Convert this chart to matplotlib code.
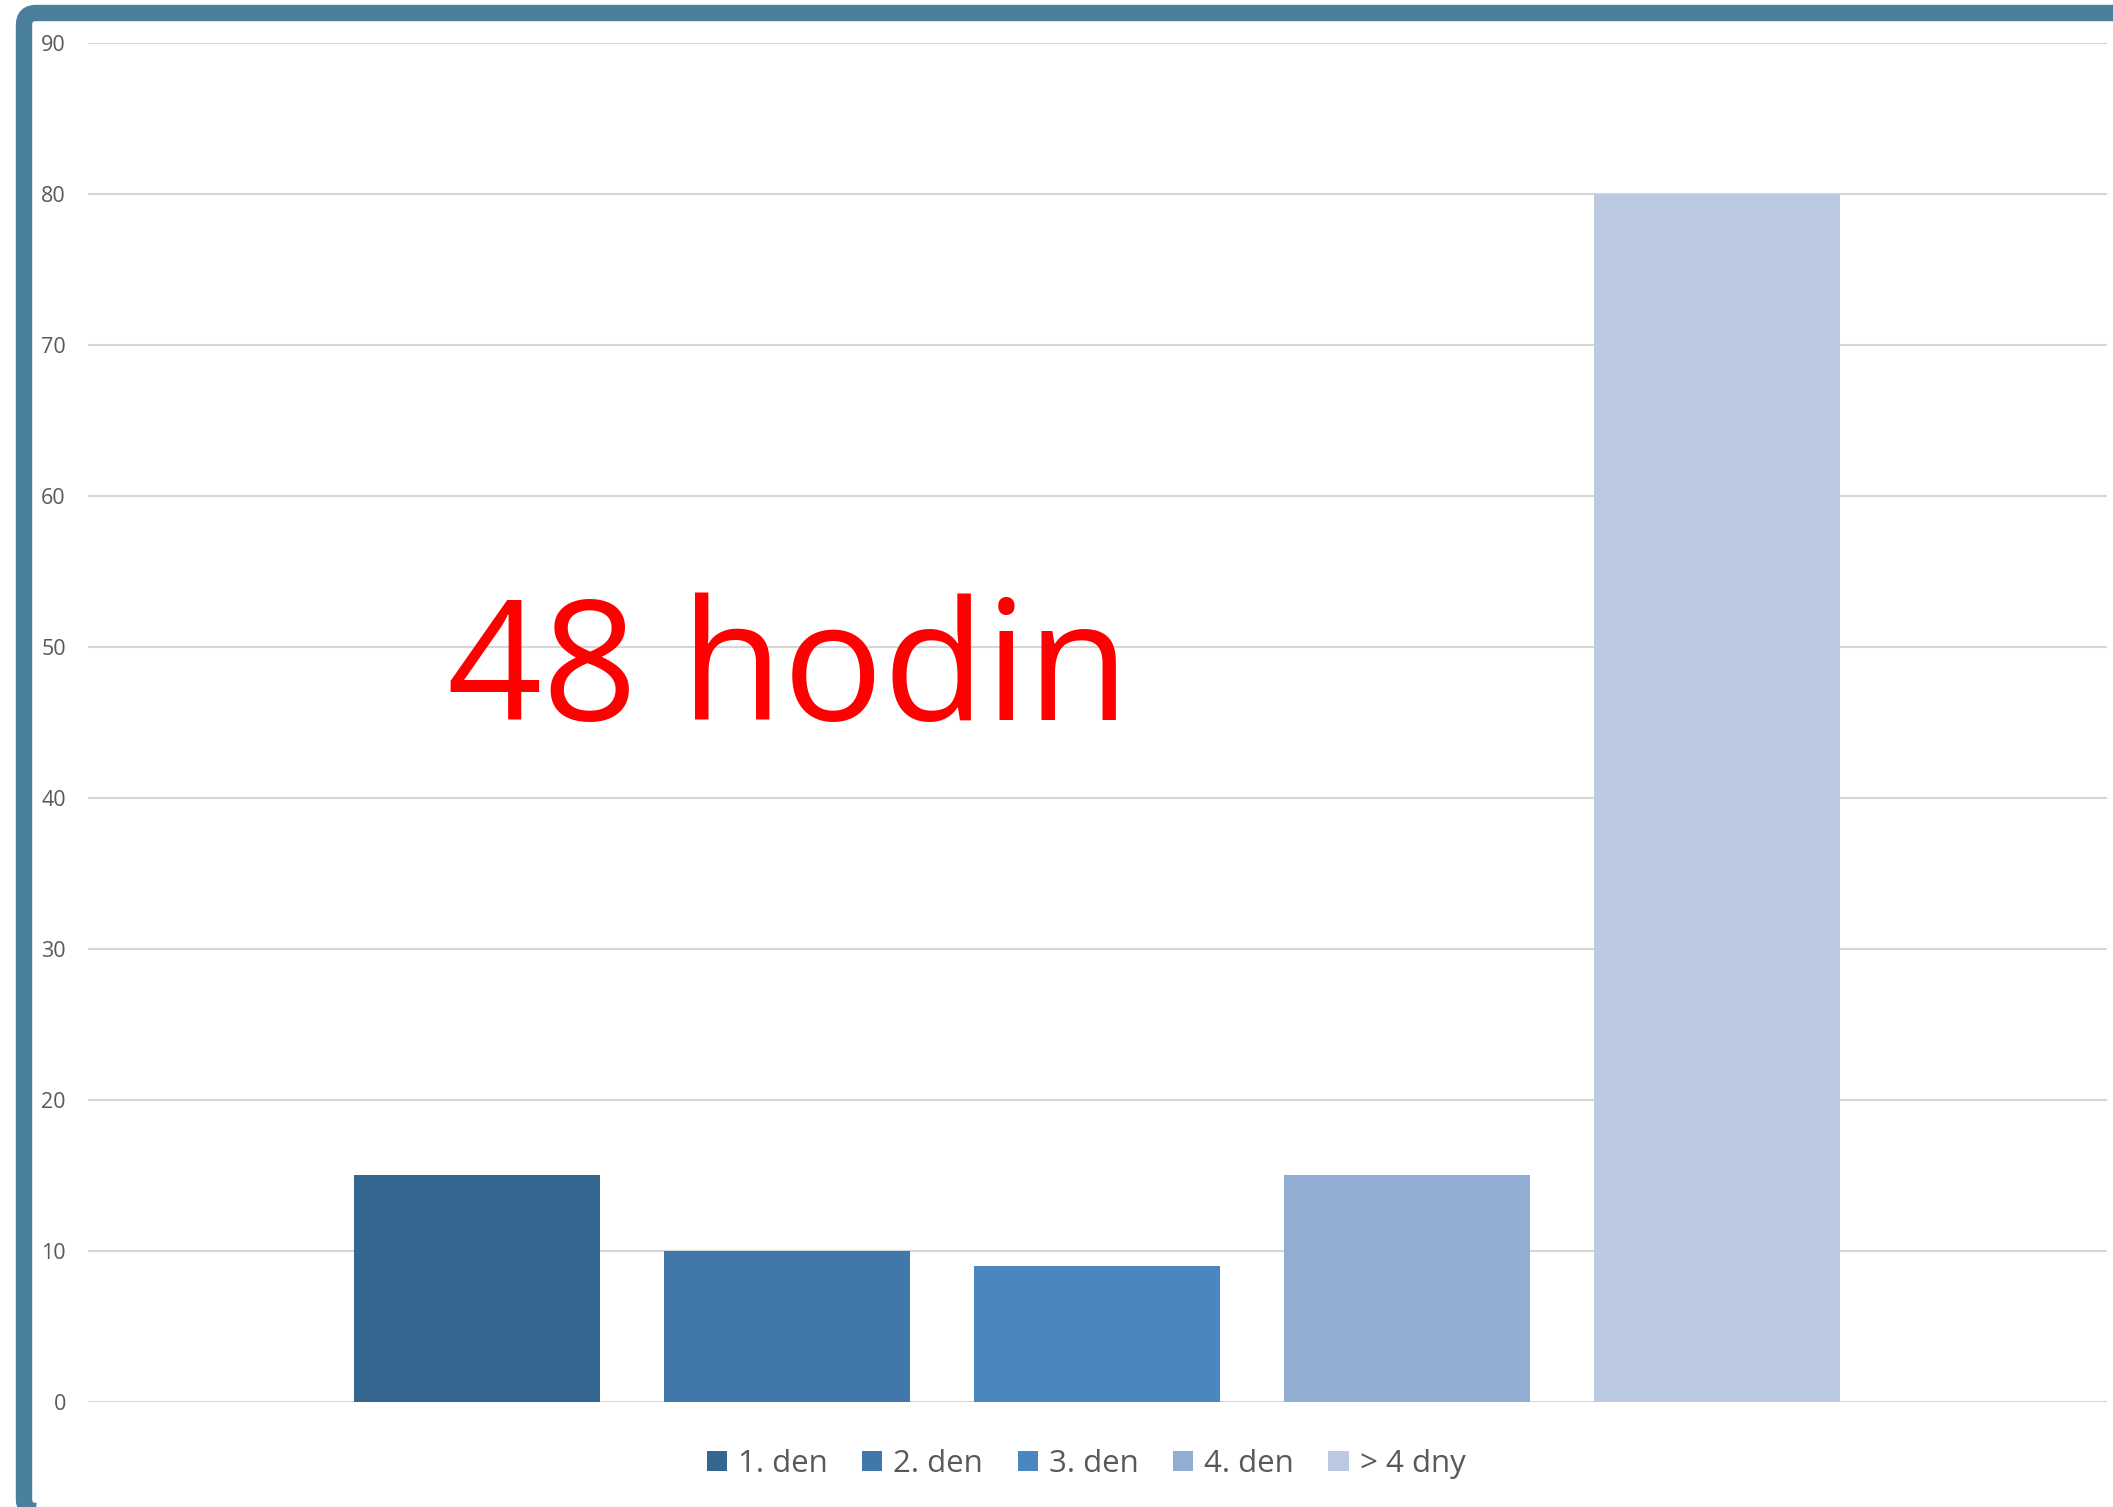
import matplotlib.pyplot as plt
from matplotlib.patches import FancyBboxPatch
from matplotlib.patches import Patch

labels = ["1. den", "2. den", "3. den", "4. den", "> 4 dny"]
values = [15, 10, 9, 15, 80]
colors = ["#35668F", "#4177AA", "#4A87C0", "#91ADD3", "#BBCAE1"]
yticks = [0, 10, 20, 30, 40, 50, 60, 70, 80, 90]

W, H = 2113, 1507
fig = plt.figure(figsize=(W / 100, H / 100), dpi=100)
plt.rcParams["font.family"] = ["Open Sans", "DejaVu Sans"]

# plot area (pixels)
ax = fig.add_axes([88 / W, (H - 1401.7) / H, 2019 / W, 1359 / H])

pos = list(range(len(values)))
for p, v, c, l in zip(pos, values, colors, labels):
	ax.bar(p, v, width=0.7935, color=c, label=l, zorder=2)

ax.set_xlim(-1.255, 5.258)
ax.set_ylim(0, 90)
ax.set_yticks(yticks)
ax.yaxis.grid(True, color="#D6D6D6", linewidth=1.5, zorder=0)
ax.set_axisbelow(True)
ax.set_xticks([])
for s in ax.spines.values():
	s.set_visible(False)
ax.tick_params(axis="y", length=0, pad=16, labelsize=15.5, labelcolor="#595959")

# big red annotation
fig.text(447 / W, (H - 720) / H, "48 hodin", color="#FF0000", fontsize=120,
	ha="left", va="baseline")

handles = [Patch(facecolor=c, label=l) for c, l in zip(colors, labels)]
fig.legend(handles=handles, loc="center", bbox_to_anchor=(1086 / W, (H - 1464) / H),
	ncol=5, frameon=False, fontsize=22.5, labelcolor="#595959",
	handlelength=0.65, handleheight=0.65, handletextpad=0.35, columnspacing=1.1)

# blue frame around the chart, clipped at right and bottom
frame = FancyBboxPatch((0.24, -0.04), 22.0, 14.98, boxstyle="round,pad=0,rounding_size=0.12",
	transform=fig.dpi_scale_trans, facecolor="none", edgecolor="#4A7F9E",
	linewidth=11.8, clip_on=False)
fig.patches.append(frame)

plt.savefig("out.png", dpi=100)
